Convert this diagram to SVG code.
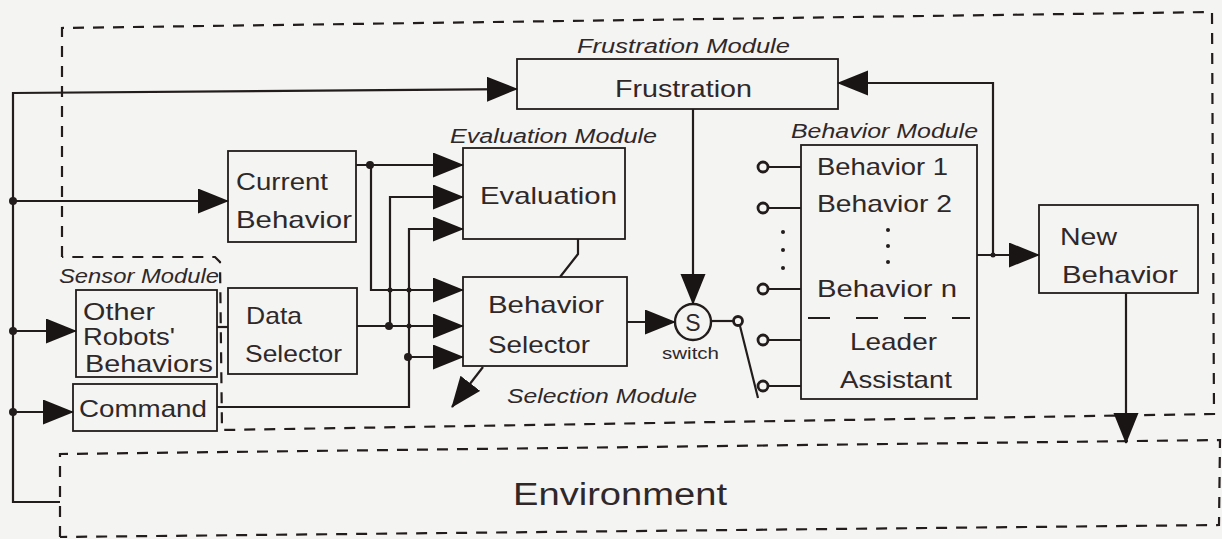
<svg xmlns="http://www.w3.org/2000/svg" width="1222" height="539" viewBox="0 0 1222 539">
<style>
.bg{fill:#f4f4f3}
.box{fill:none;stroke:#221c1c;stroke-width:1.8}
.dash{fill:none;stroke:#221c1c;stroke-width:2.2;stroke-dasharray:11 9}
.ln{fill:none;stroke:#221c1c;stroke-width:2.2}
.dot{fill:#221c1c}
.term{fill:#f4f4f3;stroke:#221c1c;stroke-width:2.8}
text{font-family:"Liberation Sans","DejaVu Sans",sans-serif;fill:#302828}
.t{font-size:24px}
.m{font-size:20px;font-style:italic}
.s{font-size:17px}
</style>
<defs>
<marker id="ah" markerUnits="userSpaceOnUse" markerWidth="32" markerHeight="26" refX="30" refY="12.5" orient="auto" viewBox="0 0 32 26">
<path d="M0,0 L31,12.5 L0,25 z" fill="#1a1515"/>
</marker>
</defs>
<rect class="bg" x="0" y="0" width="1222" height="539"/>

<g id="module-boundary">
<path class="dash" d="M62,257 L62,28 L1212,12 L1214,414 L222,430 L220,262 L215,257 L62,257"/>
</g>

<g id="environment">
<path class="dash" d="M60,537 L60,454 L1220,440 L1219,525 L60,537"/>
<text class="t" x="513" y="505" style="font-size:31px" textLength="214" lengthAdjust="spacingAndGlyphs">Environment</text>
</g>

<g id="frustration">
<rect class="box" x="517" y="59" width="321" height="50"/>
<text class="t" x="615" y="97" textLength="137" lengthAdjust="spacingAndGlyphs">Frustration</text>
<text class="m" x="577" y="53" textLength="213" lengthAdjust="spacingAndGlyphs">Frustration Module</text>
</g>

<g id="current-behavior">
<rect class="box" x="228" y="151" width="128" height="91"/>
<text class="t" x="236" y="190" textLength="92" lengthAdjust="spacingAndGlyphs">Current</text>
<text class="t" x="236" y="228" textLength="116" lengthAdjust="spacingAndGlyphs">Behavior</text>
</g>

<g id="evaluation">
<rect class="box" x="463" y="148" width="162" height="91"/>
<text class="t" x="480" y="204" textLength="137" lengthAdjust="spacingAndGlyphs">Evaluation</text>
<text class="m" x="450" y="143" textLength="207" lengthAdjust="spacingAndGlyphs">Evaluation Module</text>
</g>

<g id="behavior-selector">
<rect class="box" x="463" y="277" width="164" height="89"/>
<text class="t" x="488" y="313" textLength="116" lengthAdjust="spacingAndGlyphs">Behavior</text>
<text class="t" x="488" y="353" textLength="102" lengthAdjust="spacingAndGlyphs">Selector</text>
<text class="m" x="507" y="403" textLength="190" lengthAdjust="spacingAndGlyphs">Selection Module</text>
</g>

<g id="switch">
<circle cx="693" cy="322" r="18" fill="none" stroke="#221c1c" stroke-width="2.4"/>
<text class="t" x="693" y="331" text-anchor="middle" style="font-size:23px">S</text>
<text class="s" x="662" y="359" textLength="57" lengthAdjust="spacingAndGlyphs">switch</text>
<circle class="term" cx="738" cy="321" r="4.5"/>
<path class="ln" d="M740,326 L758,398"/>
</g>

<g id="behavior-module">
<rect class="box" x="801" y="145" width="176" height="254"/>
<text class="m" x="791" y="138" textLength="187" lengthAdjust="spacingAndGlyphs">Behavior Module</text>
<text class="t" x="817" y="175" textLength="131" lengthAdjust="spacingAndGlyphs">Behavior 1</text>
<text class="t" x="817" y="212" textLength="135" lengthAdjust="spacingAndGlyphs">Behavior 2</text>
<circle class="dot" cx="888" cy="230" r="2"/>
<circle class="dot" cx="888" cy="246" r="2"/>
<circle class="dot" cx="888" cy="262" r="2"/>
<text class="t" x="817" y="297" textLength="140" lengthAdjust="spacingAndGlyphs">Behavior n</text>
<path d="M808,318 L970,318" fill="none" stroke="#221c1c" stroke-width="1.8" stroke-dasharray="22 26"/>
<text class="t" x="850" y="350" textLength="87" lengthAdjust="spacingAndGlyphs">Leader</text>
<text class="t" x="840" y="388" textLength="112" lengthAdjust="spacingAndGlyphs">Assistant</text>
<path class="ln" d="M768,167 H801 M768,208 H801 M768,289 H801 M768,340 H801 M768,386 H801"/>
<circle class="term" cx="763" cy="167" r="5"/>
<circle class="term" cx="763" cy="208" r="5"/>
<circle class="term" cx="763" cy="289" r="5"/>
<circle class="term" cx="763" cy="340" r="5"/>
<circle class="term" cx="763" cy="386" r="5"/>
<circle class="dot" cx="783" cy="232" r="2"/>
<circle class="dot" cx="783" cy="250" r="2"/>
<circle class="dot" cx="783" cy="268" r="2"/>
</g>

<g id="new-behavior">
<rect class="box" x="1039" y="205" width="159" height="88"/>
<text class="t" x="1060" y="245" textLength="57" lengthAdjust="spacingAndGlyphs">New</text>
<text class="t" x="1062" y="283" textLength="116" lengthAdjust="spacingAndGlyphs">Behavior</text>
</g>

<g id="sensor-module">
<text class="m" x="59" y="283" textLength="160" lengthAdjust="spacingAndGlyphs">Sensor Module</text>
</g>

<g id="other-robots-behaviors">
<rect class="box" x="76" y="290" width="141" height="87"/>
<text class="t" x="83" y="320" textLength="72" lengthAdjust="spacingAndGlyphs">Other</text>
<text class="t" x="83" y="345" textLength="92" lengthAdjust="spacingAndGlyphs">Robots'</text>
<text class="t" x="85" y="372" textLength="128" lengthAdjust="spacingAndGlyphs">Behaviors</text>
</g>

<g id="data-selector">
<rect class="box" x="228" y="288" width="129" height="86"/>
<text class="t" x="246" y="324" textLength="56" lengthAdjust="spacingAndGlyphs">Data</text>
<text class="t" x="245" y="362" textLength="97" lengthAdjust="spacingAndGlyphs">Selector</text>
</g>

<g id="command">
<rect class="box" x="73" y="384" width="144" height="47"/>
<text class="t" x="79" y="417" textLength="128" lengthAdjust="spacingAndGlyphs">Command</text>
</g>

<g id="connectors">
<path class="ln" d="M60,502 H13 V93 L517,89" marker-end="url(#ah)"/>
<path class="ln" d="M13,201 H228" marker-end="url(#ah)"/>
<path class="ln" d="M13,331 H76" marker-end="url(#ah)"/>
<path class="ln" d="M13,412 H73" marker-end="url(#ah)"/>
<circle class="dot" cx="13" cy="201" r="4"/>
<circle class="dot" cx="13" cy="331" r="4"/>
<circle class="dot" cx="13" cy="412" r="4"/>
<path class="ln" d="M217,327 H228"/>
<path class="ln" d="M356,165 H463" marker-end="url(#ah)"/>
<path class="ln" d="M371,165 V290 H463" marker-end="url(#ah)"/>
<circle class="dot" cx="370" cy="165" r="4"/>
<path class="ln" d="M357,326 H463" marker-end="url(#ah)"/>
<path class="ln" d="M390,326 V197 H463" marker-end="url(#ah)"/>
<circle class="dot" cx="389" cy="326" r="4"/>
<path class="ln" d="M217,407 H409 V229 H463" marker-end="url(#ah)"/>
<path class="ln" d="M409,357 H463" marker-end="url(#ah)"/>
<circle class="dot" cx="408" cy="357" r="4"/>
<circle class="dot" cx="390" cy="290" r="2.5"/>
<circle class="dot" cx="409" cy="290" r="2.5"/>
<circle class="dot" cx="409" cy="326" r="2.5"/>
<path class="ln" d="M578,239 V254 L560,277" stroke-width="3"/>
<path class="ln" d="M483,367 L452,407" marker-end="url(#ah)"/>
<path class="ln" d="M627,322 H675" marker-end="url(#ah)"/>
<path class="ln" d="M693,109 V304" marker-end="url(#ah)"/>
<path class="ln" d="M711,321 H733"/>
<path class="ln" d="M977,255 H1039" marker-end="url(#ah)"/>
<path class="ln" d="M993,255 V83 H838" marker-end="url(#ah)"/>
<circle class="dot" cx="993" cy="255" r="2.5"/>
<path class="ln" d="M1126,293 V443" marker-end="url(#ah)"/>
</g>
</svg>
